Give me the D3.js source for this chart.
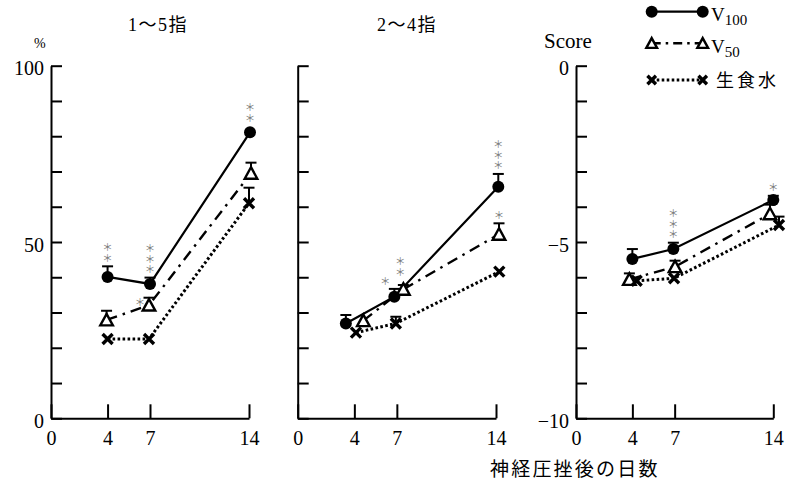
<!DOCTYPE html>
<html>
<head>
<meta charset="utf-8">
<script src="https://cdn.jsdelivr.net/npm/d3@7"></script>
<style>
  html, body { margin: 0; padding: 0; background: #fff; }
  svg { display: block; }
  .num { font-family: 'Liberation Serif', 'Noto Sans CJK JP', serif; }
  .sig { writing-mode: vertical-rl; text-orientation: upright; }
</style>
</head>
<body>
<svg id="chart" width="787" height="486"></svg>
<script>
// ---------------- DATA ----------------
const days = [4, 7, 14];
const seriesNames = ["V100", "V50", "生食水"];
const panelTitles = ["1～5指", "2～4指", ""];

// Panel 1: 1～5指 (%)
const p1V100 = [40.1, 38.1, 81.1];
const p1V100Err = [3.0, 1.8, 0];
const p1V50 = [27.9, 32.1, 69.5];
const p1V50Err = [2.6, 2.1, 3.0];
const p1Saline = [22.5, 22.5, 61.0];
const p1SalineErr = [0, 0, 4.4];

// Panel 2: 2～4指 (%)
const p2V100 = [26.9, 34.5, 65.7];
const p2V100Err = [2.4, 2.2, 3.6];
const p2V50 = [27.7, 36.6, 52.2];
const p2V50Err = [0, 1.2, 3.1];
const p2Saline = [24.3, 26.9, 41.6];
const p2SalineErr = [0, 1.9, 0];

// Panel 3: Score
const p3V100 = [-5.48, -5.20, -3.81];
const p3V100Err = [0.28, 0.18, 0.12];
const p3V50 = [-6.06, -5.70, -4.20];
const p3V50Err = [0.17, 0.17, 0.26];
const p3Saline = [-6.10, -6.03, -4.52];
const p3SalineErr = [0, 0, 0.24];

// y-axis domains / ticks / labels
const yDomains = [[0, 100], [0, 100], [-10, 0]];
const yTickValues = [d3.range(0, 101, 10), d3.range(0, 101, 10), d3.range(-10, 1, 1)];
const yLabelValues = [[0, 50, 100], [], [-10, -5, 0]];
const xTickValues = [0, 4, 7, 14];

// significance marks: panel, series, day index, text
const sigPanel  = [0, 0, 0, 0, 1, 1, 1, 1, 2, 2];
const sigSeries = [0, 0, 1, 0, 0, 1, 0, 1, 0, 0];
const sigDay    = [0, 1, 1, 2, 1, 1, 2, 2, 1, 2];
const sigText   = ["**", "***", "*", "**", "*", "**", "***", "*", "***", "*"];

// ---------------- LAYOUT / STYLE ----------------
const panelX = [[51, 249], [297.7, 496], [576, 773.3]];
const yTop = 65.7, yBottom = 418.3;
// small horizontal dodge (px) per panel, series, day
const dodge = [
  [[0, 0, 1], [-1, -1, 2], [0, -1, 0]],
  [[-8.5, -2.5, 2.3], [9, 6.5, 3], [1.6, -1, 3.3]],
  [[0, -1.3, 0], [-3, 0.4, -3.3], [4.3, -0.6, 5.7]]
];
// placement of significance marks: "above" error bar or "left" of marker
const sigPlace = ["above", "above", "left", "above", "left", "above", "above", "above", "above", "above"];
const sigShift = [[0, 0], [0, 0], [-9, 4], [0, 0], [-9, -8], [-3, -5], [0, 0], [0, 0], [0, 0], [0, 0]];
const sigStep = 10.5;

const panelValues = [
  [p1V100, p1V50, p1Saline],
  [p2V100, p2V50, p2Saline],
  [p3V100, p3V50, p3Saline]
];
const panelErrs = [
  [p1V100Err, p1V50Err, p1SalineErr],
  [p2V100Err, p2V50Err, p2SalineErr],
  [p3V100Err, p3V50Err, p3SalineErr]
];

const lineStyles = [
  { width: 2.2, dash: null },
  { width: 2.4, dash: "11,6,2.5,6" },
  { width: 3, dash: "2.6,2.4" }
];

const svg = d3.select("#chart");
const fmtLabel = v => (v < 0 ? "\u2212" + Math.abs(v) : String(v));

function drawMarker(g, type, x, y, scale) {
  const s = scale || 1;
  if (type === 0) {
    g.append("circle").attr("cx", x).attr("cy", y).attr("r", 6 * s).attr("fill", "#000");
  } else if (type === 1) {
    const w = 6.3 * s, h = 11.5 * s;
    g.append("path")
      .attr("d", `M${x},${y - h / 2 - 0.3}L${x + w},${y + h / 2 - 0.3}L${x - w},${y + h / 2 - 0.3}Z`)
      .attr("fill", "#fff").attr("stroke", "#000").attr("stroke-width", 2.4)
      .attr("stroke-linejoin", "miter");
  } else {
    const r = 5 * s;
    g.append("path")
      .attr("d", `M${x - r},${y - r}L${x + r},${y + r}M${x - r},${y + r}L${x + r},${y - r}`)
      .attr("stroke", "#000").attr("stroke-width", 3.4).attr("fill", "none");
  }
}

const scales = [];
panelX.forEach((px, p) => {
  const x = d3.scaleLinear().domain([0, 14]).range(px);
  const y = d3.scaleLinear().domain(yDomains[p]).range([yBottom, yTop]);
  scales.push({ x, y });
  const g = svg.append("g");

  // y axis
  const yAxis = d3.axisLeft(y)
    .tickValues(yTickValues[p])
    .tickSizeInner(-11).tickSizeOuter(0).tickPadding(7)
    .tickFormat(v => yLabelValues[p].includes(v) ? fmtLabel(v) : "");
  const ya = g.append("g").attr("transform", `translate(${px[0]},0)`).call(yAxis);
  ya.selectAll("path, line").attr("stroke", "#000").attr("stroke-width", 2);
  ya.selectAll("text").attr("class", "num").attr("font-size", 20).attr("fill", "#000").attr("dy", "0.45em");

  // x axis
  const xAxis = d3.axisBottom(x)
    .tickValues(xTickValues)
    .tickSizeInner(-14).tickSizeOuter(0).tickPadding(13)
    .tickFormat(d3.format("d"));
  const xa = g.append("g").attr("transform", `translate(0,${yBottom})`).call(xAxis);
  xa.selectAll("path, line").attr("stroke", "#000").attr("stroke-width", 2);
  xa.selectAll("text").attr("class", "num").attr("font-size", 20).attr("fill", "#000");

  // lines
  const vals = panelValues[p], errs = panelErrs[p];
  vals.forEach((series, s) => {
    const line = d3.line()
      .x((d, i) => x(days[i]) + dodge[p][s][i])
      .y(d => y(d));
    const path = g.append("path").datum(series)
      .attr("d", line).attr("fill", "none").attr("stroke", "#000")
      .attr("stroke-width", lineStyles[s].width);
    if (lineStyles[s].dash) path.attr("stroke-dasharray", lineStyles[s].dash);
  });
  // error bars
  vals.forEach((series, s) => {
    series.forEach((v, i) => {
      const e = errs[s][i];
      if (!e) return;
      const cx = x(days[i]) + dodge[p][s][i];
      g.append("line").attr("x1", cx).attr("x2", cx).attr("y1", y(v)).attr("y2", y(v + e))
        .attr("stroke", "#000").attr("stroke-width", 2);
      g.append("line").attr("x1", cx - 5.5).attr("x2", cx + 5.5).attr("y1", y(v + e)).attr("y2", y(v + e))
        .attr("stroke", "#000").attr("stroke-width", 2);
    });
  });
  // markers
  vals.forEach((series, s) => {
    series.forEach((v, i) => {
      drawMarker(g, s, x(days[i]) + dodge[p][s][i], y(v));
    });
  });

  // title
  if (panelTitles[p]) {
    svg.append("text").attr("class", "num")
      .attr("x", p === 0 ? 128 : 377).attr("y", 31)
      .attr("font-size", 18).attr("letter-spacing", 1.5)
      .text(panelTitles[p]);
  }
});

// significance marks (one vertical text per stack)
sigText.forEach((t, k) => {
  const p = sigPanel[k], s = sigSeries[k], i = sigDay[k];
  const { x, y } = scales[p];
  const v = panelValues[p][s][i];
  const e = panelErrs[p][s][i] || 0;
  const cx = x(days[i]) + dodge[p][s][i] + sigShift[k][0];
  const topY = y(v + e) - (e ? 0 : 6) + sigShift[k][1];
  const n = t.length;
  // center of the lowest star
  const lowC = sigPlace[k] === "left" ? topY : topY - 8.5;
  const bottomEdge = lowC + sigStep / 2;
  svg.append("text")
    .attr("class", "sig")
    .attr("x", cx).attr("y", bottomEdge)
    .attr("text-anchor", "end")
    .attr("font-family", "'Noto Sans CJK JP', sans-serif")
    .attr("font-size", sigStep).attr("fill", "#7a7a7a")
    .text("＊".repeat(n));
});

// unit labels
svg.append("text").attr("class", "num").attr("x", 34).attr("y", 48).attr("font-size", 14).text("%");
svg.append("text").attr("class", "num").attr("x", 544).attr("y", 48).attr("font-size", 21).text("Score");

// x axis title
svg.append("text").attr("x", 490).attr("y", 475.5)
  .attr("font-family", "'Noto Sans CJK JP', sans-serif")
  .attr("font-size", 19).attr("letter-spacing", 2.2)
  .text("神経圧挫後の日数");

// legend
const legY = [11.7, 43.3, 80];
const legX = [651.7, 702.7];
seriesNames.forEach((name, s) => {
  const lg = svg.append("g");
  const ln = lg.append("line").attr("x1", legX[0]).attr("x2", legX[1])
    .attr("y1", legY[s]).attr("y2", legY[s])
    .attr("stroke", "#000").attr("stroke-width", lineStyles[s].width);
  if (lineStyles[s].dash) ln.attr("stroke-dasharray", s === 1 ? "9,5,2.5,5" : lineStyles[s].dash);
  legX.forEach(lx => drawMarker(lg, s, lx, legY[s], s === 0 ? 1 : 0.85));
  if (s < 2) {
    const txt = lg.append("text").attr("class", "num").attr("x", 711).attr("y", legY[s] + 9.5).attr("font-size", 19);
    txt.append("tspan").text(name.slice(0, 1));
    txt.append("tspan").attr("dy", 4).attr("font-size", 15).text(name.slice(1));
  } else {
    lg.append("text").attr("x", 716).attr("y", legY[s] + 7)
      .attr("font-family", "'Noto Sans CJK JP', sans-serif")
      .attr("font-size", 18).attr("letter-spacing", 3)
      .text(name);
  }
});
</script>
</body>
</html>
